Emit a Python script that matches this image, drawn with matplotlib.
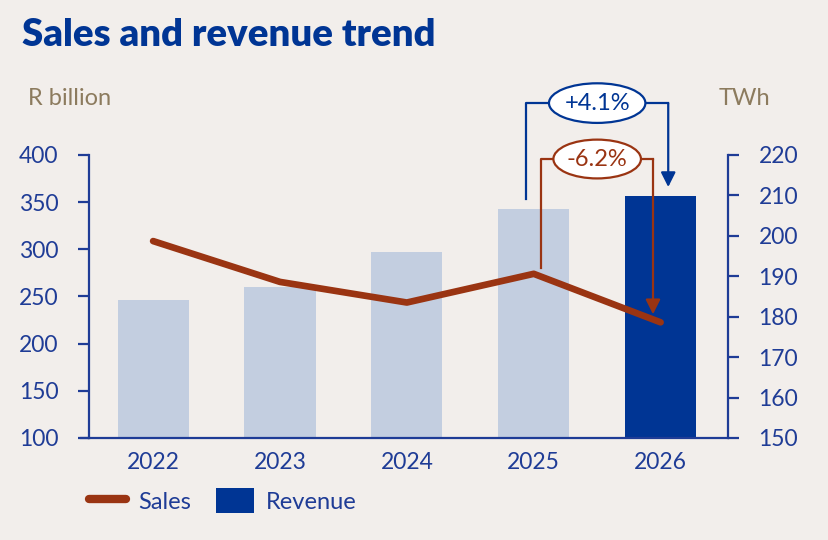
import matplotlib.pyplot as plt
from matplotlib.patches import Ellipse, Patch
from matplotlib.lines import Line2D

# data
years = ['2022', '2023', '2024', '2025', '2026']
revenue = [246, 260, 297, 343, 357]          # R billion (bars)
sales = [198.7, 188.6, 183.5, 190.6, 178.6]  # TWh (line)
rev_change = '+4.1%'
sales_change = '-6.2%'

bg = '#f2eeeb'
navy = '#003594'
axis_blue = '#1f3c96'
light_bar = '#c3cee0'
rust = '#9a3412'
brown_label = '#8c7b5e'

plt.rcParams['font.family'] = ['Lato', 'DejaVu Sans']

fig = plt.figure(figsize=(8.29, 5.4), dpi=100, facecolor=bg)
ax = fig.add_axes([0.1074, 0.189, 0.7706, 0.524])
ax.set_facecolor(bg)
ax2 = ax.twinx()

x = list(range(len(years)))
colors = [light_bar] * (len(years) - 1) + [navy]
ax.bar(x, revenue, width=0.56, color=colors, zorder=2)
ax2.plot(x, sales, color=rust, lw=4.8, solid_capstyle='round', solid_joinstyle='round', zorder=3)

ax.set_xlim(-0.505, 4.53)
ax.set_ylim(100, 400)
ax2.set_ylim(150, 220)
ax.set_yticks(range(100, 401, 50))
ax2.set_yticks(range(150, 221, 10))
ax.set_xticks(x)
ax.set_xticklabels(years)

for a in (ax, ax2):
    for s in a.spines.values():
        s.set_visible(False)
    a.tick_params(colors=axis_blue, labelcolor=axis_blue, labelsize=16.5, width=1.6, length=8)
ax.spines['left'].set_visible(True)
ax.spines['bottom'].set_visible(True)
ax2.spines['right'].set_visible(True)
for s in (ax.spines['left'], ax.spines['bottom'], ax2.spines['right']):
    s.set_color(axis_blue)
    s.set_linewidth(1.6)
ax.tick_params(axis='x', length=0, pad=10)
ax.tick_params(axis='y', pad=14)
ax2.tick_params(axis='y', pad=14)
for lab in ax2.get_yticklabels():
    lab.set_horizontalalignment('left')

# small extension of the baseline to the left of the y axis
ax.plot([-0.57, -0.505], [100, 100], color=axis_blue, lw=1.6, clip_on=False)

# axis units
fig.text(0.034, 0.818, 'R billion', color=brown_label, fontsize=17, va='center')
fig.text(0.867, 0.818, 'TWh', color=brown_label, fontsize=17, va='center')

# title
fig.text(0.026, 0.935, 'Sales and revenue trend', color=navy, fontsize=27.5,
         fontweight='heavy', va='center')

# revenue change bracket
blue_top = 455
ax.plot([3 - 0.06, 3 - 0.06, 3.5], [revenue[3] + 10, blue_top, blue_top],
        color=navy, lw=1.6, clip_on=False, zorder=4)
ax.annotate('', xy=(4 + 0.06, revenue[4] + 9), xytext=(4 + 0.06, blue_top),
            arrowprops=dict(arrowstyle='-|>', color=navy, lw=1.6, mutation_scale=22,
                            shrinkA=0, shrinkB=0), annotation_clip=False, zorder=4)
ax.plot([3.5, 4 + 0.06], [blue_top, blue_top], color=navy, lw=1.6, clip_on=False, zorder=4)
ax.add_patch(Ellipse((3.5, blue_top), 0.76, 42, transform=ax.transData, facecolor='white',
                     edgecolor=navy, lw=1.6, clip_on=False, zorder=5))
ax.text(3.5, blue_top, rev_change, color=navy, fontsize=17, ha='center', va='center', zorder=6)

# sales change bracket
or_top = 219
ax2.plot([3 + 0.06, 3 + 0.06, 4 - 0.06], [sales[3] + 1.5, or_top, or_top],
         color=rust, lw=1.6, clip_on=False, zorder=4)
ax2.annotate('', xy=(4 - 0.06, sales[4] + 2), xytext=(4 - 0.06, or_top),
             arrowprops=dict(arrowstyle='-|>', color=rust, lw=1.6, mutation_scale=22,
                             shrinkA=0, shrinkB=0), annotation_clip=False, zorder=4)
ax2.add_patch(Ellipse((3.5, or_top), 0.69, 9.6, transform=ax2.transData, facecolor='white',
                      edgecolor=rust, lw=1.6, clip_on=False, zorder=5))
ax2.text(3.5, or_top, sales_change, color=rust, fontsize=17, ha='center', va='center', zorder=6)

# legend
handles = [Line2D([], [], color=rust, lw=6, solid_capstyle='round'),
           Patch(facecolor=navy, edgecolor='none')]
fig.legend(handles, ['Sales', 'Revenue'], loc='center left', bbox_to_anchor=(0.107, 0.073),
           ncol=2, frameon=False, fontsize=17, labelcolor=axis_blue, handlelength=1.6,
           handleheight=1.2, columnspacing=1.05, handletextpad=0.5,
           borderpad=0, borderaxespad=0)

fig.savefig('out.png', dpi=100, facecolor=bg)
